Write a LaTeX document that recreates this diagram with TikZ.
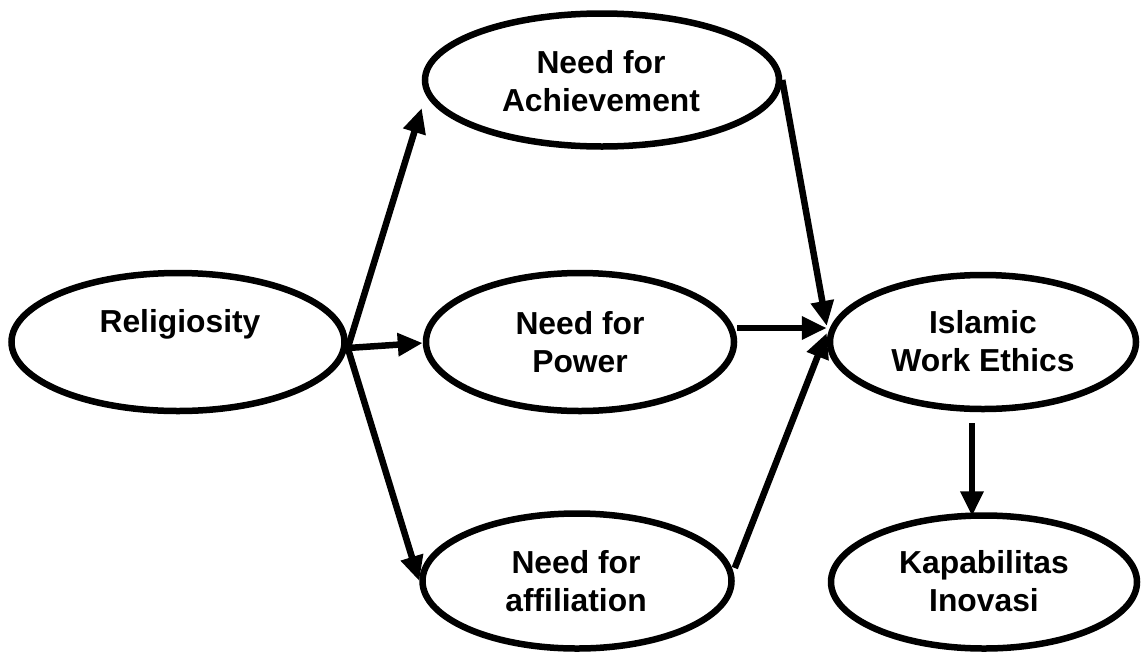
\documentclass[tikz,border=0pt]{standalone}
\usepackage{fontspec}
\setmainfont{Liberation Sans}
\usetikzlibrary{shapes.geometric,arrows.meta}
\begin{document}
\begin{tikzpicture}[x=1pt,y=-1pt,
  ell/.style={draw,ellipse,line width=6.5pt,inner sep=0pt},
  lbl/.style={align=center,font=\bfseries\fontsize{31.8}{38}\selectfont,inner sep=0pt},
  conn/.style={line width=6.5pt,-{Triangle[length=25pt,width=22pt]}}]
\useasboundingbox (0,0) rectangle (1145,654);
% ellipses
\node[ell,minimum width=333pt,minimum height=138pt] (rel) at (178,342) {};
\node[ell,minimum width=354pt,minimum height=133pt] (ach) at (602,80) {};
\node[ell,minimum width=308pt,minimum height=138pt] (pow) at (580,342) {};
\node[ell,minimum width=309pt,minimum height=135pt] (aff) at (577,581) {};
\node[ell,minimum width=306pt,minimum height=134pt] (iwe) at (983,342) {};
\node[ell,minimum width=306pt,minimum height=133pt] (kap) at (984,582) {};
% labels
\node[lbl] (trel) at (180,324) {Religiosity};
\node[lbl] (tach) at (601,81) {Need for\\Achievement};
\node[lbl] (tpow) at (580,342) {Need for\\Power};
\node[lbl] (taff) at (576,581) {Need for\\affiliation};
\node[lbl] (tiwe) at (983,341) {Islamic\\Work Ethics};
\node[lbl] (tkap) at (984,581) {Kapabilitas\\Inovasi};
% connectors
\draw[conn] ([yshift=-6pt]rel.east) -- ([yshift=-28pt]ach.west);
\draw[conn] ([yshift=-6pt]rel.east) -- ([yshift=-1pt]pow.west);
\draw[conn] ([yshift=-6pt]rel.east) -- (aff.west);
\draw[conn] (ach.east) -- ([yshift=16pt]iwe.west);
\draw[conn] ([yshift=14pt]pow.east) -- ([yshift=14pt]iwe.west);
\draw[conn] ([yshift=13pt]aff.east) -- ([yshift=9pt]iwe.west);
\draw[conn] ([xshift=-11pt,yshift=-11pt]iwe.south) -- ([xshift=-12pt,yshift=-4pt]kap.north);
\end{tikzpicture}
\end{document}
